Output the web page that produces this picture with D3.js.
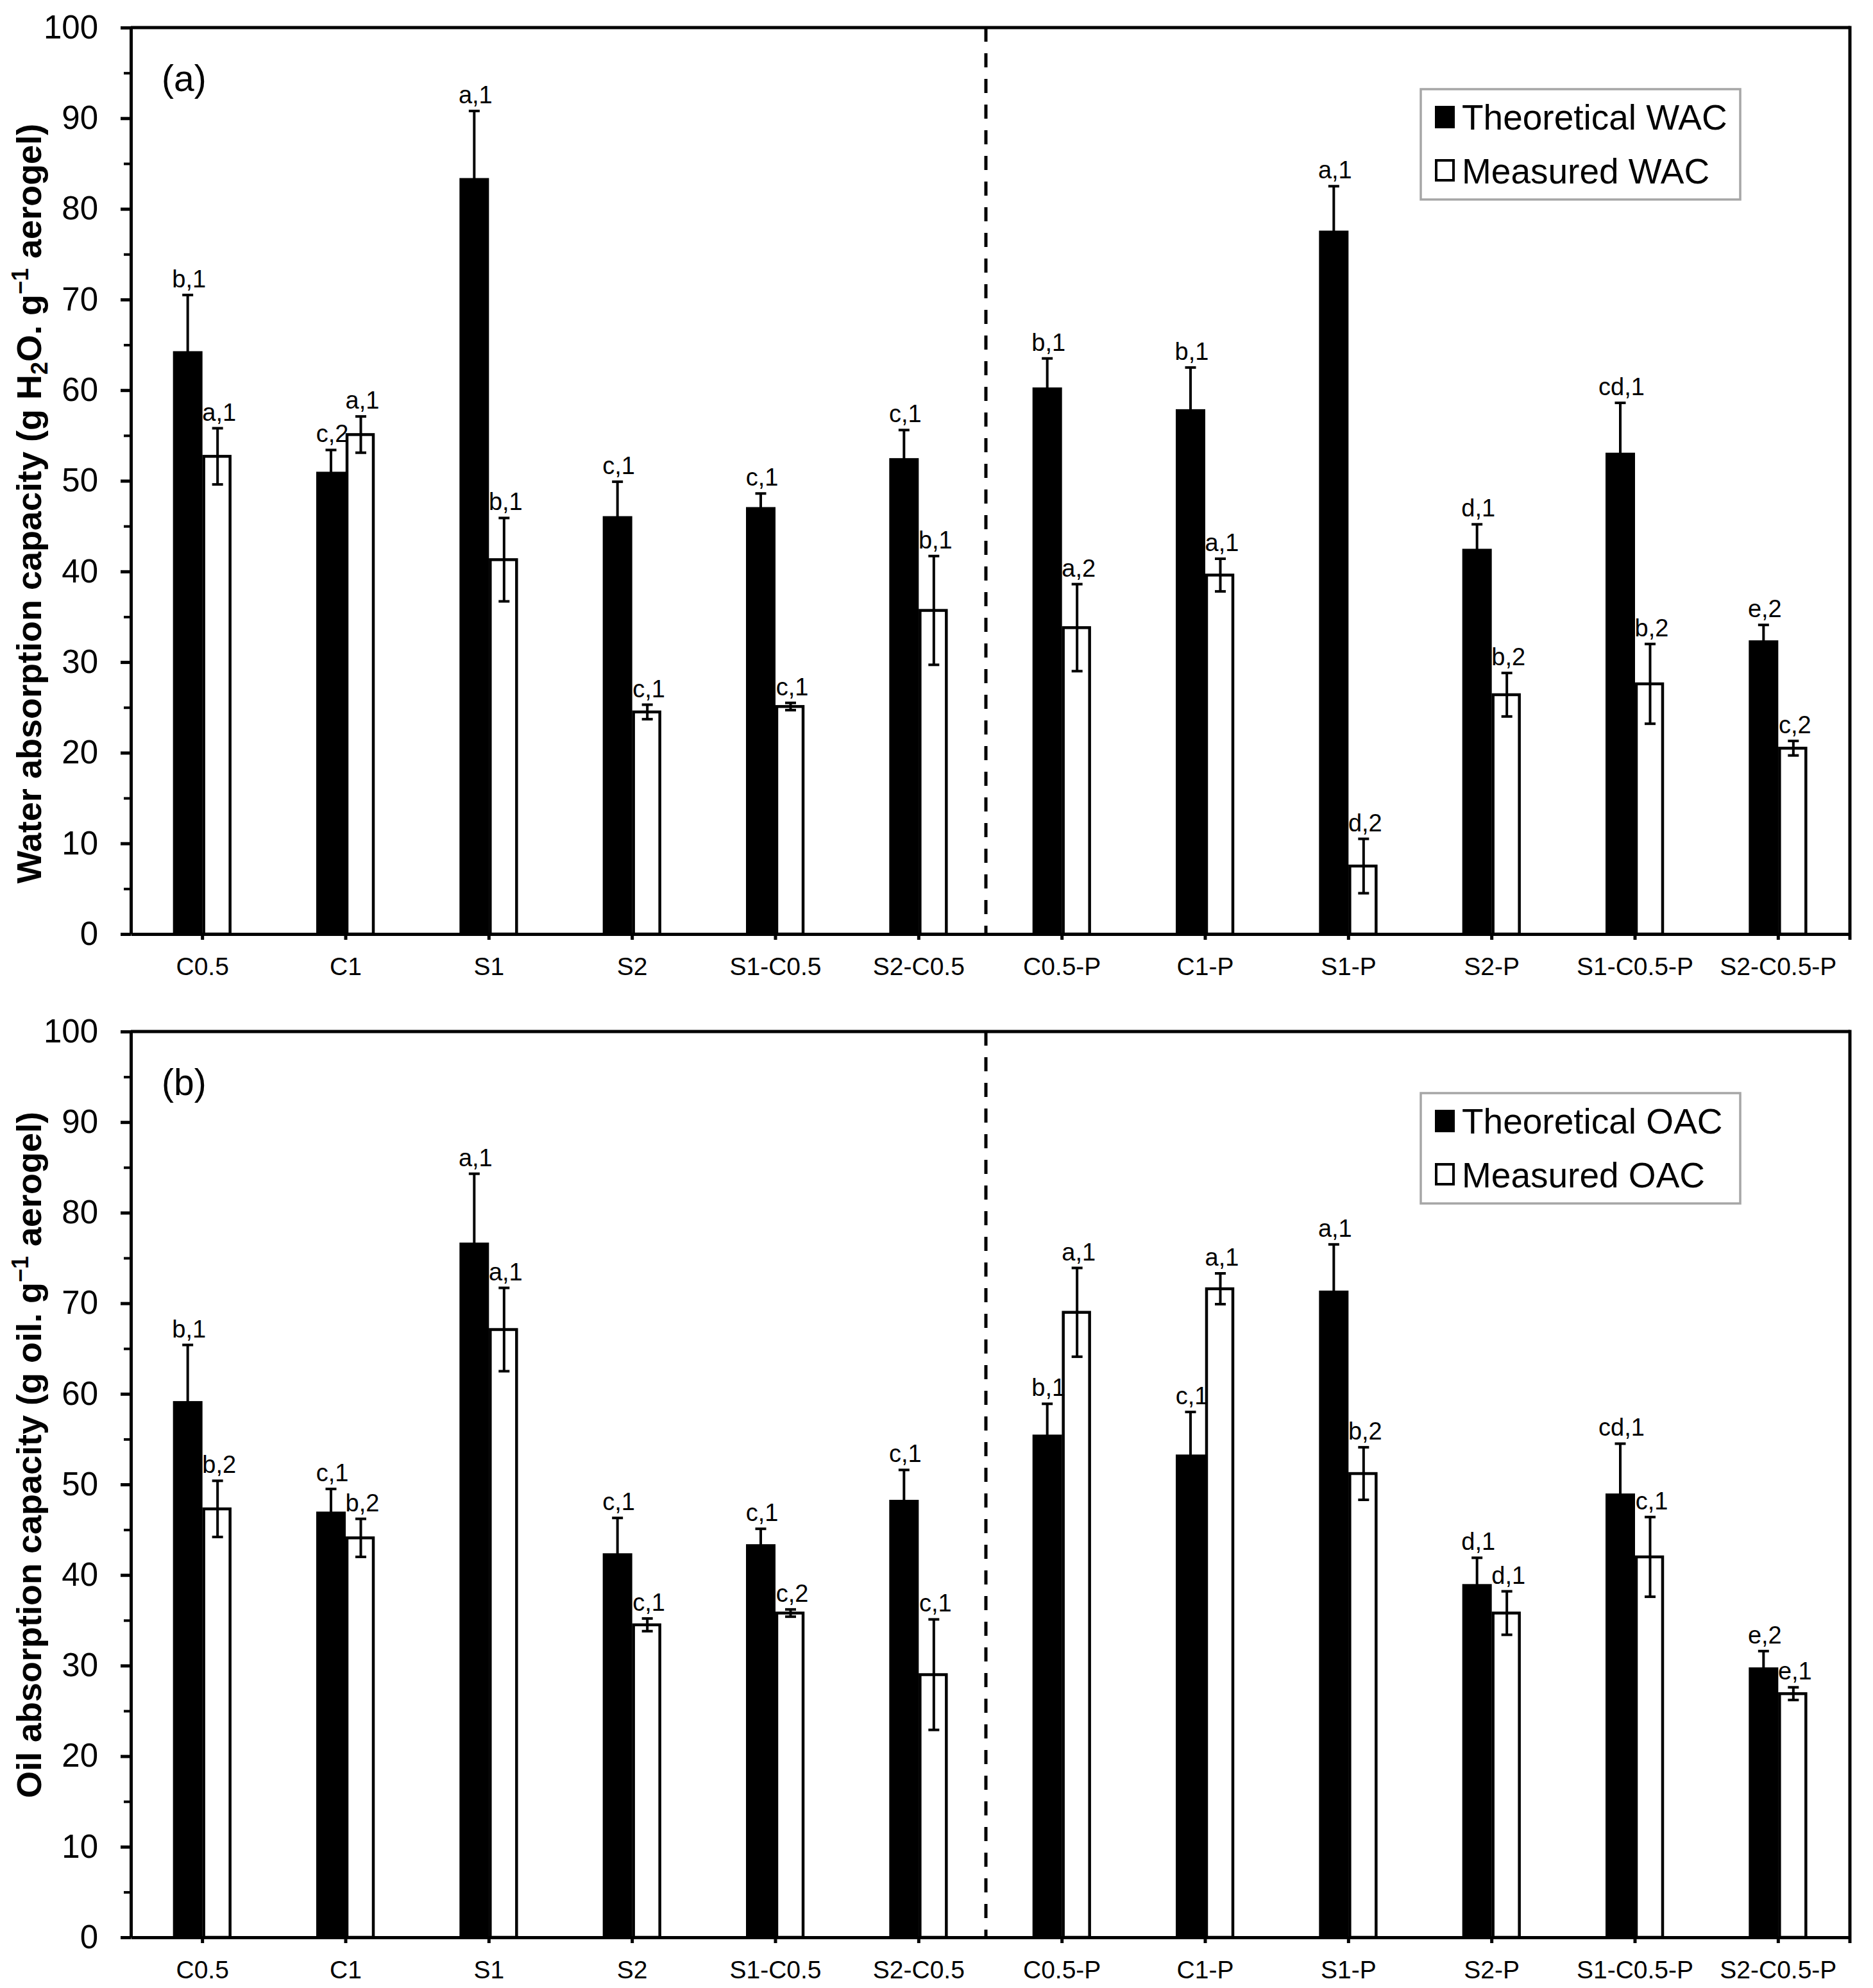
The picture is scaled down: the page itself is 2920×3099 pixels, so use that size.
<!DOCTYPE html>
<html>
<head>
<meta charset="utf-8">
<script src="https://cdn.jsdelivr.net/npm/d3@7"></script>
<style>
  body { margin: 0; background: #fff; }
  text { font-family: "Liberation Sans", Arial, sans-serif; fill: #000; }
</style>
</head>
<body>
<div id="chart"></div>
<script>
// sample names (shared by both panels)
var categories = ["C0.5", "C1", "S1", "S2", "S1-C0.5", "S2-C0.5",
  "C0.5-P", "C1-P", "S1-P", "S2-P", "S1-C0.5-P", "S2-C0.5-P"];

// (a) water absorption capacity
var wacTheoretical = [64.3, 51.0, 83.4, 46.1, 47.1, 52.5, 60.3, 57.9, 77.6, 42.5, 53.1, 32.4];
var wacTheoreticalErr = [6.2, 2.4, 7.4, 3.8, 1.5, 3.1, 3.2, 4.6, 4.9, 2.7, 5.5, 1.7];
var wacMeasured = [52.7, 55.1, 41.3, 24.5, 25.1, 35.7, 33.8, 39.6, 7.5, 26.4, 27.6, 20.5];
var wacMeasuredErr = [3.1, 2.0, 4.6, 0.8, 0.4, 6.0, 4.8, 1.8, 3.0, 2.4, 4.4, 0.8];
var wacTheoreticalLetters = ["b,1", "c,2", "a,1", "c,1", "c,1", "c,1", "b,1", "b,1", "a,1", "d,1", "cd,1", "e,2"];
var wacMeasuredLetters = ["a,1", "a,1", "b,1", "c,1", "c,1", "b,1", "a,2", "a,1", "d,2", "b,2", "b,2", "c,2"];

// (b) oil absorption capacity
var oacTheoretical = [59.2, 47.0, 76.7, 42.4, 43.4, 48.3, 55.5, 53.3, 71.4, 39.0, 49.0, 29.8];
var oacTheoreticalErr = [6.2, 2.5, 7.6, 3.9, 1.7, 3.3, 3.4, 4.7, 5.1, 2.9, 5.5, 1.8];
var oacMeasured = [47.3, 44.1, 67.1, 34.5, 35.8, 29.0, 69.0, 71.6, 51.2, 35.8, 42.0, 26.9];
var oacMeasuredErr = [3.1, 2.1, 4.6, 0.7, 0.4, 6.1, 4.9, 1.7, 2.9, 2.4, 4.4, 0.7];
var oacTheoreticalLetters = ["b,1", "c,1", "a,1", "c,1", "c,1", "c,1", "b,1", "c,1", "a,1", "d,1", "cd,1", "e,2"];
var oacMeasuredLetters = ["b,2", "b,2", "a,1", "c,1", "c,2", "c,1", "a,1", "a,1", "b,2", "d,1", "c,1", "e,1"];

var yTicks = [0, 10, 20, 30, 40, 50, 60, 70, 80, 90, 100];
var yMinorTicks = [5, 15, 25, 35, 45, 55, 65, 75, 85, 95];

var svgWidth = 2920;
var svgHeight = 3099;
var plotLeft = 204;
var plotRight = 2884;
var dividerX = 1537;

var svg = d3.select("#chart")
  .append("svg")
  .attr("width", svgWidth)
  .attr("height", svgHeight);

var x = d3.scaleBand()
  .domain(categories)
  .range([plotLeft, plotRight])
  .padding(0);

var barW = 46;

function drawPanel(p) {
  var y = d3.scaleLinear()
    .domain([0, 100])
    .range([p.bottom, p.top]);

  var g = svg.append("g");

  var rows = categories.map(function(c, i) {
    return {
      cat: c,
      t: p.theo[i], te: p.theoErr[i], tl: p.theoLab[i],
      m: p.meas[i], me: p.measErr[i], ml: p.measLab[i]
    };
  });

  // black bars (theoretical)
  g.selectAll(".theo")
    .data(rows)
    .enter()
    .append("rect")
    .attr("x", d => x(d.cat) + x.bandwidth() / 2 - barW)
    .attr("y", d => y(d.t))
    .attr("width", barW)
    .attr("height", d => y(0) - y(d.t))
    .attr("fill", "#000");

  // white bars (measured)
  g.selectAll(".meas")
    .data(rows)
    .enter()
    .append("rect")
    .attr("x", d => x(d.cat) + x.bandwidth() / 2 + 2)
    .attr("y", d => y(d.m))
    .attr("width", barW - 5)
    .attr("height", d => y(0) - y(d.m))
    .attr("fill", "#fff")
    .attr("stroke", "#000")
    .attr("stroke-width", 4.5);

  // error bars
  function errBars(cls, dx, val, err) {
    var eg = g.selectAll("." + cls)
      .data(rows)
      .enter()
      .append("g")
      .attr("stroke", "#000")
      .attr("stroke-width", 4);
    eg.append("line")
      .attr("x1", d => x(d.cat) + x.bandwidth() / 2 + dx)
      .attr("x2", d => x(d.cat) + x.bandwidth() / 2 + dx)
      .attr("y1", d => y(d[val] - d[err]))
      .attr("y2", d => y(d[val] + d[err]));
    eg.append("line")
      .attr("x1", d => x(d.cat) + x.bandwidth() / 2 + dx - 8.5)
      .attr("x2", d => x(d.cat) + x.bandwidth() / 2 + dx + 8.5)
      .attr("y1", d => y(d[val] + d[err]))
      .attr("y2", d => y(d[val] + d[err]));
    eg.append("line")
      .attr("x1", d => x(d.cat) + x.bandwidth() / 2 + dx - 8.5)
      .attr("x2", d => x(d.cat) + x.bandwidth() / 2 + dx + 8.5)
      .attr("y1", d => y(d[val] - d[err]))
      .attr("y2", d => y(d[val] - d[err]));
  }
  errBars("theoErr", -barW / 2, "t", "te");
  errBars("measErr", barW / 2 + 0.5, "m", "me");

  // significance letters above the error bars
  g.selectAll(".theoLab")
    .data(rows)
    .enter()
    .append("text")
    .attr("x", d => x(d.cat) + x.bandwidth() / 2 - barW / 2 + 2)
    .attr("y", d => y(d.t + d.te) - 12)
    .attr("text-anchor", "middle")
    .attr("font-size", "38px")
    .text(d => d.tl);

  g.selectAll(".measLab")
    .data(rows)
    .enter()
    .append("text")
    .attr("x", d => x(d.cat) + x.bandwidth() / 2 + barW / 2 + 3)
    .attr("y", d => y(d.m + d.me) - 12)
    .attr("text-anchor", "middle")
    .attr("font-size", "38px")
    .text(d => d.ml);

  // dashed divider between plain and P samples
  g.append("line")
    .attr("x1", dividerX).attr("x2", dividerX)
    .attr("y1", p.top).attr("y2", p.bottom)
    .attr("stroke", "#000")
    .attr("stroke-width", 5)
    .attr("stroke-dasharray", "22,18");

  // frame: top and right
  g.append("line")
    .attr("x1", plotLeft).attr("x2", plotRight)
    .attr("y1", p.top).attr("y2", p.top)
    .attr("stroke", "#000").attr("stroke-width", 5);
  g.append("line")
    .attr("x1", plotRight).attr("x2", plotRight)
    .attr("y1", p.top - 2.5).attr("y2", p.bottom + 9)
    .attr("stroke", "#000").attr("stroke-width", 5);

  // y axis
  var leftAxis = d3.axisLeft(y)
    .tickValues(yTicks)
    .tickSize(16)
    .tickSizeOuter(0)
    .tickPadding(35)
    .tickFormat(d3.format("d"));
  var yAxis = g.append("g")
    .attr("transform", `translate(${plotLeft}, 0)`)
    .call(leftAxis);
  yAxis.selectAll("path, line").attr("stroke-width", 5);
  yAxis.selectAll("text").attr("font-size", "51px").attr("font-family", "'Liberation Sans', Arial, sans-serif");

  var minorAxis = d3.axisLeft(y)
    .tickValues(yMinorTicks)
    .tickSize(11)
    .tickFormat("");
  var yMinor = g.append("g")
    .attr("transform", `translate(${plotLeft}, 0)`)
    .call(minorAxis);
  yMinor.select(".domain").remove();
  yMinor.selectAll("line").attr("stroke-width", 4);

  // x axis
  var bottomAxis = d3.axisBottom(x)
    .tickSize(9)
    .tickSizeOuter(0);
  var xAxis = g.append("g")
    .attr("transform", `translate(0, ${p.bottom})`)
    .call(bottomAxis);
  xAxis.selectAll("path, line").attr("stroke-width", 5);
  xAxis.selectAll("text")
    .attr("y", 64)
    .attr("dy", 0)
    .attr("font-size", "39px")
    .attr("font-family", "'Liberation Sans', Arial, sans-serif");

  // panel tag
  g.append("text")
    .attr("x", 252)
    .attr("y", p.top + 99)
    .attr("font-size", "57px")
    .text(p.tag);

  // y axis title with sub/superscripts
  var title = g.append("text")
    .attr("transform", `translate(64, ${p.titleY}) rotate(-90)`)
    .attr("text-anchor", "middle")
    .attr("font-size", "54px")
    .attr("font-weight", "bold");
  p.title.forEach(function(part) {
    var t = title.append("tspan").text(part.s);
    if (part.sub) t.attr("font-size", "36px").attr("dy", 10);
    if (part.sup) t.attr("font-size", "36px").attr("dy", -20);
    if (part.back) t.attr("dy", part.back);
  });

  // legend
  var lg = g.append("g")
    .attr("transform", `translate(2215, ${p.top + 96})`);
  lg.append("rect")
    .attr("width", 498)
    .attr("height", 172)
    .attr("fill", "#fff")
    .attr("stroke", "#a6a6a6")
    .attr("stroke-width", 3.5);
  lg.append("rect")
    .attr("x", 22).attr("y", 26)
    .attr("width", 31).attr("height", 35)
    .attr("fill", "#000");
  lg.append("rect")
    .attr("x", 24).attr("y", 111)
    .attr("width", 27).attr("height", 31)
    .attr("fill", "#fff")
    .attr("stroke", "#000")
    .attr("stroke-width", 4);
  lg.append("text")
    .attr("x", 64).attr("y", 63)
    .attr("font-size", "55px")
    .text(p.legend[0]);
  lg.append("text")
    .attr("x", 64).attr("y", 147)
    .attr("font-size", "55px")
    .text(p.legend[1]);
}

drawPanel({
  top: 43, bottom: 1456, tag: "(a)", titleY: 785,
  theo: wacTheoretical, theoErr: wacTheoreticalErr, theoLab: wacTheoreticalLetters,
  meas: wacMeasured, measErr: wacMeasuredErr, measLab: wacMeasuredLetters,
  legend: ["Theoretical WAC", "Measured WAC"],
  title: [
    { s: "Water absorption capacity (g H" },
    { s: "2", sub: true },
    { s: "O. g", back: -10 },
    { s: "\u22121", sup: true },
    { s: " aerogel)", back: 20 }
  ]
});

drawPanel({
  top: 1608, bottom: 3020, tag: "(b)", titleY: 2268,
  theo: oacTheoretical, theoErr: oacTheoreticalErr, theoLab: oacTheoreticalLetters,
  meas: oacMeasured, measErr: oacMeasuredErr, measLab: oacMeasuredLetters,
  legend: ["Theoretical OAC", "Measured OAC"],
  title: [
    { s: "Oil absorption capacity (g oil. g" },
    { s: "\u22121", sup: true },
    { s: " aerogel)", back: 20 }
  ]
});
</script>
</body>
</html>
